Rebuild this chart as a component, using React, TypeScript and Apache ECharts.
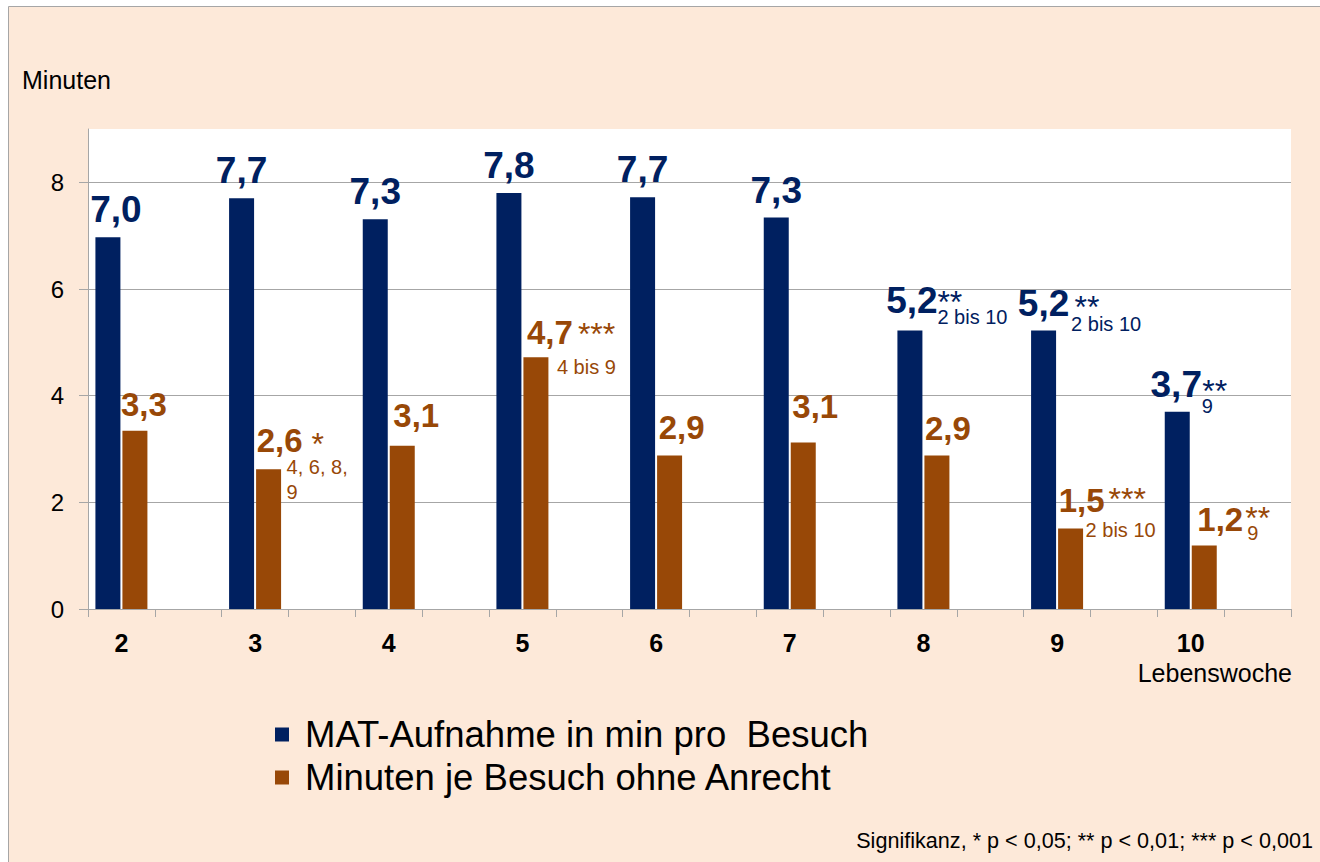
import React, { useEffect, useRef } from 'react';
import * as echarts from 'echarts';

// ---- data ----
const weeks = ['2', '3', '4', '5', '6', '7', '8', '9', '10'];
const matMinutes = [6.97, 7.7, 7.31, 7.8, 7.72, 7.34, 5.22, 5.22, 3.7];
const ohneAnrecht = [3.34, 2.62, 3.06, 4.72, 2.88, 3.12, 2.88, 1.51, 1.19];
const matStars = ['', '', '', '', '', '', '**', '**', '**'];
const matNotes = ['', '', '', '', '', '', '2 bis 10', '2 bis 10', '9'];
const ohneStars = ['', '*', '', '***', '', '', '', '***', '**'];
const ohneNotes = ['', '4, 6, 8,\n9', '', '4 bis 9', '', '', '', '2 bis 10', '9'];
const yTicks = [0, 2, 4, 6, 8];
const seriesNames = ['MAT-Aufnahme in min pro  Besuch', 'Minuten je Besuch ohne Anrecht'];
const yAxisTitle = 'Minuten';
const xAxisTitle = 'Lebenswoche';
const footnote = 'Signifikanz, * p < 0,05; ** p < 0,01; *** p < 0,001';

// ---- label placement (style, not data) ----
const matLabelShift = [[8, 0], [0, 0], [0, 0], [0, 0], [0, 0], [0, 0], [2, -3], [0, 0], [-1, 0]];
const ohneLabelShift = [[9, 0], [11, -2], [14, -4], [14, 2], [12, -1], [12, -10], [11, 0], [11, -1], [16, 0]];
const matStarShift = [null, null, null, null, null, null, [27.5, -45], [31, -40], [25, -37]];
const matNoteShift = [null, null, null, null, null, null, [27.5, -26], [27.5, -19], [24.5, -18]];
const ohneStarShift = [null, [43, -41], null, [42, -39], null, null, null, [38, -45], [41, -44]];
const ohneNoteShift = [null, [18, -15], null, [21, -3], null, null, null, [15, -11], [43, -25]];

const BLUE = '#002060';
const BROWN = '#984807';
const GRID = '#A6A6A6';
const FONT = '"Liberation Sans", Arial, sans-serif';

const GAP = '|gap';
const categories = weeks.flatMap((w) => [w, w + GAP]);
const fmt = (v: number) => v.toFixed(1).replace('.', ',');

function barData(values: number[], shifts: number[][]) {
  const out: any[] = [];
  values.forEach((v, i) => {
    out.push({ value: v, label: { offset: shifts[i] } });
    out.push('-');
  });
  return out;
}

function marks(values: number[], stars: string[], notes: string[], starShift: any[], noteShift: any[]) {
  const out: any[] = [];
  values.forEach((v, i) => {
    if (stars[i]) {
      out.push({
        coord: [weeks[i], v],
        label: { formatter: stars[i], fontSize: 32, fontWeight: 'normal', lineHeight: 32, offset: starShift[i] },
      });
    }
    if (notes[i]) {
      out.push({
        coord: [weeks[i], v],
        label: { formatter: notes[i], fontSize: 20, fontWeight: 'normal', lineHeight: 25, offset: noteShift[i] },
      });
    }
  });
  return out;
}

function markPointCfg(color: string, data: any[]) {
  return {
    symbol: 'circle',
    symbolSize: 1,
    silent: true,
    animation: false,
    itemStyle: { color: 'rgba(0,0,0,0)' },
    label: {
      show: true,
      position: 'inside',
      align: 'left',
      verticalAlign: 'top',
      color,
      fontFamily: FONT,
    },
    emphasis: { disabled: true },
    data,
  };
}

export default function App() {
  const ref = useRef<HTMLDivElement>(null);
  useEffect(() => {
    if (!ref.current) return;
    const chart = echarts.init(ref.current, null, { renderer: 'svg' });
    chart.setOption({
      animation: false,
      backgroundColor: '#ffffff',
      textStyle: { fontFamily: FONT },
      graphic: [
        {
          type: 'rect',
          z: -10,
          silent: true,
          shape: { x: 8.5, y: 6.5, width: 1320, height: 870 },
          style: { fill: '#FDE9D9', stroke: GRID, lineWidth: 1 },
        },
      ],
      title: [
        {
          text: yAxisTitle,
          left: 22,
          top: 67,
          padding: 0,
          textStyle: { fontSize: 25, fontWeight: 'normal', color: '#000', fontFamily: FONT },
        },
        {
          text: xAxisTitle,
          right: 28,
          top: 660,
          padding: 0,
          textStyle: { fontSize: 25, fontWeight: 'normal', color: '#000', fontFamily: FONT },
        },
        {
          text: footnote,
          right: 7,
          top: 829,
          padding: 0,
          textStyle: { fontSize: 21.6, fontWeight: 'normal', color: '#000', fontFamily: FONT },
        },
      ],
      legend: {
        orient: 'vertical',
        left: 275,
        top: 716,
        padding: 0,
        itemWidth: 14,
        itemHeight: 14,
        itemGap: 6,
        icon: 'rect',
        selectedMode: false,
        data: seriesNames,
        textStyle: { fontSize: 36.5, lineHeight: 37, color: '#000', fontFamily: FONT, padding: [0, 0, 0, 11] },
      },
      grid: {
        left: 88,
        right: 29,
        top: 129,
        bottom: 253,
        show: true,
        backgroundColor: '#ffffff',
        borderWidth: 0,
        containLabel: false,
        outerBoundsMode: 'none',
      },
      xAxis: {
        type: 'category',
        data: categories,
        boundaryGap: true,
        axisLine: { show: true, lineStyle: { color: GRID, width: 1 } },
        axisTick: { show: true, interval: 0, length: 8, lineStyle: { color: GRID } },
        axisLabel: {
          interval: 0,
          margin: 21,
          fontSize: 25,
          fontWeight: 'bold',
          color: '#000',
          fontFamily: FONT,
          formatter: (v: string) => (v.indexOf(GAP) >= 0 ? '' : v),
        },
        splitLine: { show: false },
      },
      yAxis: {
        type: 'value',
        min: 0,
        max: 9,
        interval: 2,
        axisLine: { show: true, lineStyle: { color: GRID, width: 1 } },
        axisTick: { show: true, length: 9, lineStyle: { color: GRID }, customValues: yTicks },
        axisLabel: {
          customValues: yTicks,
          margin: 24,
          fontSize: 24,
          color: '#000',
          fontFamily: FONT,
          formatter: (v: number) => (yTicks.indexOf(v) >= 0 ? String(v) : ''),
        },
        splitLine: {
          show: true,
          lineStyle: { color: [GRID, GRID, GRID, GRID, GRID, 'rgba(0,0,0,0)'], width: 1 },
        },
      },
      series: [
        {
          name: seriesNames[0],
          type: 'bar',
          barWidth: 25,
          barGap: '8%',
          itemStyle: { color: BLUE },
          label: {
            show: true,
            position: 'top',
            distance: 9,
            fontSize: 37,
            fontWeight: 'bold',
            color: BLUE,
            fontFamily: FONT,
            formatter: (p: any) => fmt(p.value),
          },
          emphasis: { disabled: true },
          data: barData(matMinutes, matLabelShift),
          markPoint: markPointCfg(BLUE, marks(matMinutes, matStars, matNotes, matStarShift, matNoteShift)),
        },
        {
          name: seriesNames[1],
          type: 'bar',
          barWidth: 25,
          barGap: '8%',
          itemStyle: { color: BROWN },
          label: {
            show: true,
            position: 'top',
            distance: 10,
            fontSize: 33,
            fontWeight: 'bold',
            color: BROWN,
            fontFamily: FONT,
            formatter: (p: any) => fmt(p.value),
          },
          emphasis: { disabled: true },
          data: barData(ohneAnrecht, ohneLabelShift),
          markPoint: markPointCfg(BROWN, marks(ohneAnrecht, ohneStars, ohneNotes, ohneStarShift, ohneNoteShift)),
        },
      ],
    });
    return () => chart.dispose();
  }, []);
  return (
    <div
      ref={ref}
      style={{ position: 'fixed', left: 0, top: 0, width: 1320, height: 862 }}
    />
  );
}
